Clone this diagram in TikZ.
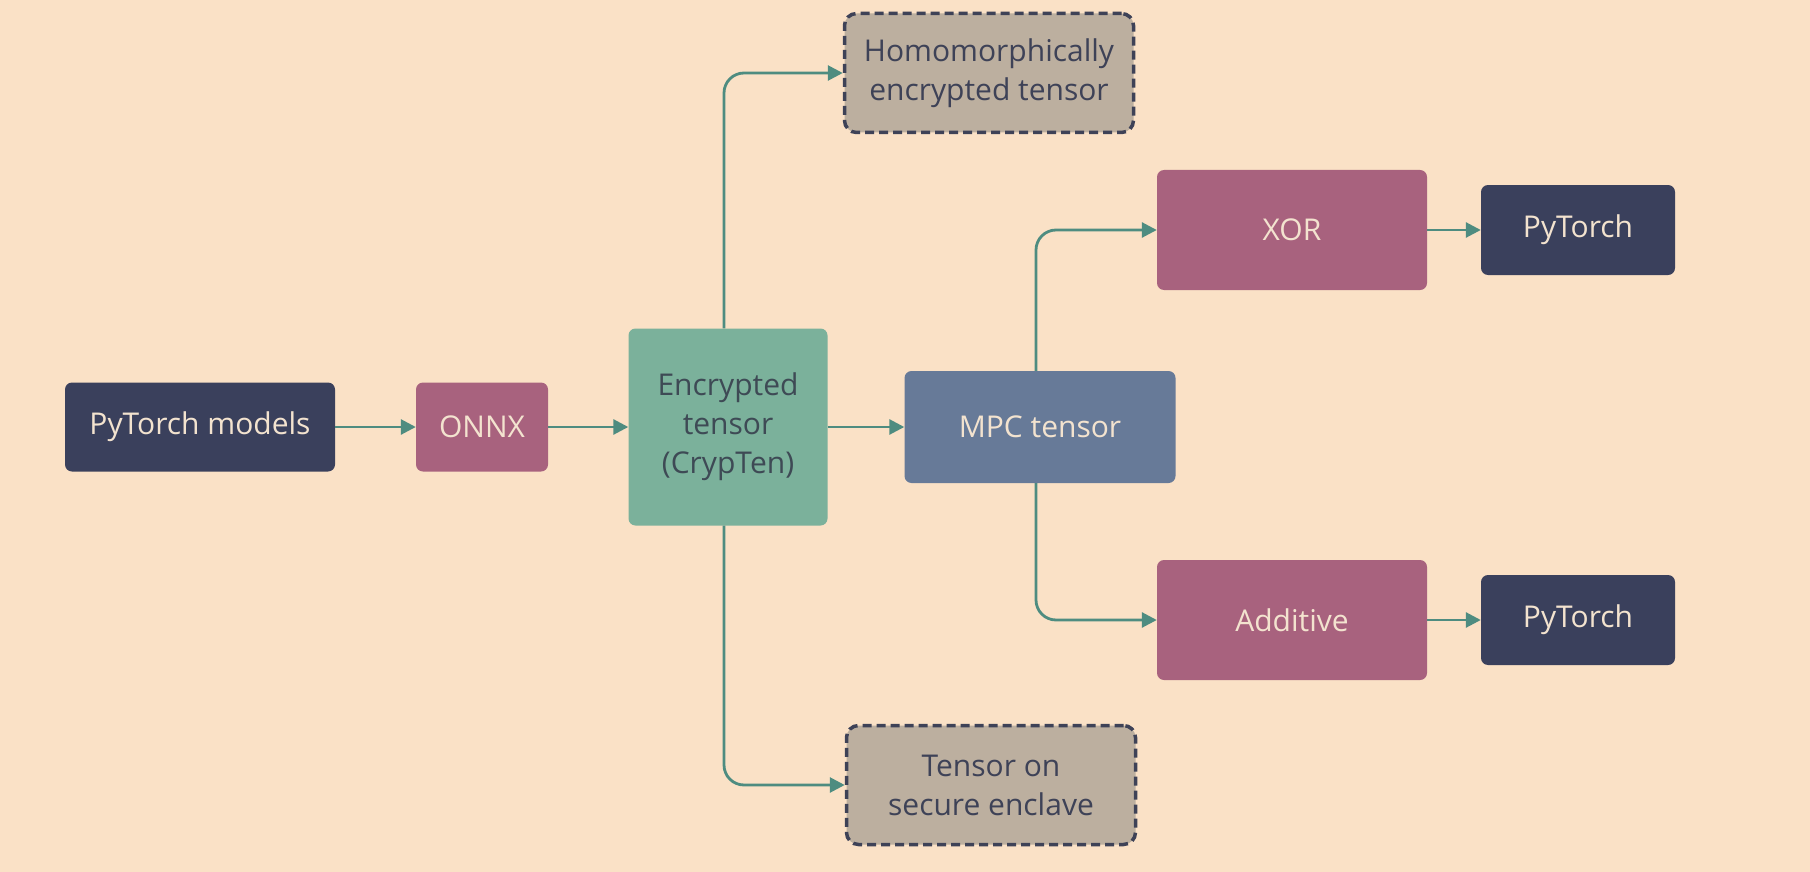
\documentclass[tikz,border=0pt]{standalone}
\usepackage{fontspec}
\setmainfont{Open Sans}
\usetikzlibrary{arrows.meta}
\definecolor{bg}{HTML}{FAE1C6}
\definecolor{navy}{HTML}{3A405C}
\definecolor{mag}{HTML}{A8627E}
\definecolor{teal}{HTML}{7BB19B}
\definecolor{slate}{HTML}{677A98}
\definecolor{greybox}{HTML}{BCAF9F}
\definecolor{dashc}{HTML}{3E4257}
\definecolor{cream}{HTML}{F3E3CF}
\definecolor{darktext}{HTML}{3E4A55}
\definecolor{conn}{HTML}{4E8C80}
\begin{document}
\begin{tikzpicture}[x=1pt,y=-1pt,
  box/.style={rectangle,rounded corners=7pt,inner sep=0pt,align=center,font=\fontsize{30}{39}\selectfont},
  darkbox/.style={box,fill=navy,text=cream},
  magbox/.style={box,fill=mag,text=cream},
  dashbox/.style={box,fill=greybox,text=dashc,draw=dashc,line width=3.5pt,dash pattern=on 9pt off 5pt,rounded corners=12pt},
  arr/.style={draw=conn,line width=2.8pt,-{Triangle[length=15pt,width=15pt]},rounded corners=20pt}]
\fill[bg] (0,0) rectangle (1810,872);
\useasboundingbox (0,0) rectangle (1810,872);
\node[darkbox,minimum width=270pt,minimum height=89pt] (pm) at (200,427) {PyTorch models};
\node[magbox,minimum width=132pt,minimum height=89pt] (onnx) at (482,427) {ONNX};
\node[box,fill=teal,text=darktext,minimum width=199pt,minimum height=197pt] (enc) at (728,427) {Encrypted\\tensor\\(CrypTen)};
\node[box,fill=slate,text=cream,minimum width=271pt,minimum height=112pt] (mpc) at (1040,427) {MPC tensor};
\node[dashbox,minimum width=289pt,minimum height=119pt] (hom) at (989,73) {Homomorphically\\encrypted tensor};
\node[dashbox,minimum width=289pt,minimum height=119pt] (sec) at (991,785) {Tensor on\\secure enclave};
\node[magbox,minimum width=270pt,minimum height=120pt] (xor) at (1292,230) {XOR};
\node[magbox,minimum width=270pt,minimum height=120pt] (add) at (1292,620) {Additive};
\node[darkbox,minimum width=194pt,minimum height=90pt] (pt1) at (1578,230) {PyTorch};
\node[darkbox,minimum width=194pt,minimum height=90pt] (pt2) at (1578,620) {PyTorch};
\draw[arr] (pm) -- (onnx);
\draw[arr] (onnx) -- (enc);
\draw[arr] (enc) -- (mpc);
\draw[arr] ([xshift=-4pt]enc.north) |- (hom.west);
\draw[arr] ([xshift=-4pt]enc.south) |- (sec.west);
\draw[arr] ([xshift=-4pt]mpc.north) |- (xor.west);
\draw[arr] ([xshift=-4pt]mpc.south) |- (add.west);
\draw[arr] (xor) -- (pt1);
\draw[arr] (add) -- (pt2);
\end{tikzpicture}
\end{document}
